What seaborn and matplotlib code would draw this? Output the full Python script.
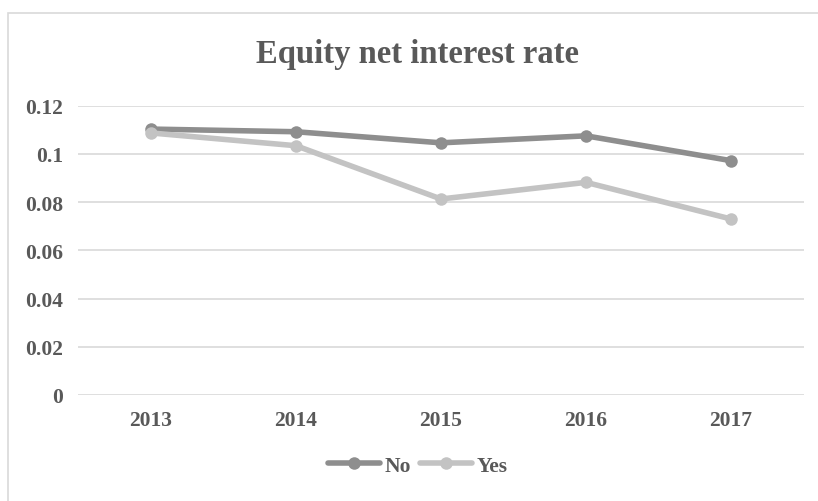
import matplotlib
matplotlib.use("Agg")
import matplotlib.pyplot as plt
from matplotlib.patches import Rectangle
import seaborn as sns
import pandas as pd

years = ["2013", "2014", "2015", "2016", "2017"]
no_values = [0.1103, 0.1092, 0.1046, 0.1075, 0.0972]
yes_values = [0.1087, 0.1034, 0.0813, 0.0882, 0.0730]
series_names = ["No", "Yes"]
y_ticks = [0, 0.02, 0.04, 0.06, 0.08, 0.1, 0.12]
y_tick_labels = ["0", "0.02", "0.04", "0.06", "0.08", "0.1", "0.12"]

df = pd.DataFrame({
    "Year": years * 2,
    "Rate": no_values + yes_values,
    "Group": [series_names[0]] * len(years) + [series_names[1]] * len(years),
})

sns.set_theme(style="white")
plt.rcParams["font.family"] = ["Liberation Serif", "DejaVu Serif"]

text_color = "#595959"
colors = {"No": "#8e8e8e", "Yes": "#c3c3c3"}
label_size = 15.5

fig = plt.figure(figsize=(8.18, 5.02), dpi=100)
ax = fig.add_axes([78.4 / 818, 106 / 502, (803.6 - 78.4) / 818, (396 - 106.7) / 502])

# chart frame
fig.patches.append(Rectangle((8 / 818, -0.05), 1.2, (502 - 14) / 502 + 0.05,
                             transform=fig.transFigure, fill=False,
                             edgecolor="#d9d9d9", linewidth=1.2, zorder=0))

for yv in y_ticks:
    ax.axhline(yv, color="#d9d9d9", linewidth=1.2, zorder=0)

sns.lineplot(data=df, x="Year", y="Rate", hue="Group", palette=colors,
             marker="o", markersize=9, markeredgewidth=0, linewidth=4,
             sort=False, legend=False, ax=ax, zorder=3)

ax.set_xlim(-0.5, len(years) - 0.5)
ax.set_ylim(0, 0.12)
ax.set_yticks(y_ticks)
ax.set_yticklabels(y_tick_labels)
ax.set_xlabel("")
ax.set_ylabel("")
for s in ax.spines.values():
    s.set_visible(False)
ax.tick_params(axis="both", length=0, labelsize=label_size, labelcolor=text_color)
ax.tick_params(axis="y", pad=11)
ax.tick_params(axis="x", pad=11)
for lab in ax.get_xticklabels() + ax.get_yticklabels():
    lab.set_fontweight("bold")

fig.text(0.511, 1 - 63 / 502, "Equity net interest rate", ha="center", va="baseline",
         fontsize=23.5, fontweight="bold", color=text_color)

handles = [plt.Line2D([], [], color=colors[n], marker="o", markersize=9,
                      markeredgewidth=0, linewidth=4) for n in series_names]
fig.legend(handles, series_names, loc="center", bbox_to_anchor=(0.511, 1 - 467 / 502),
           ncol=2, frameon=False, handlelength=2.4, handletextpad=0.25,
           columnspacing=0.4, prop={"weight": "bold", "size": label_size},
           labelcolor=text_color)

fig.savefig("out.png", dpi=100)
